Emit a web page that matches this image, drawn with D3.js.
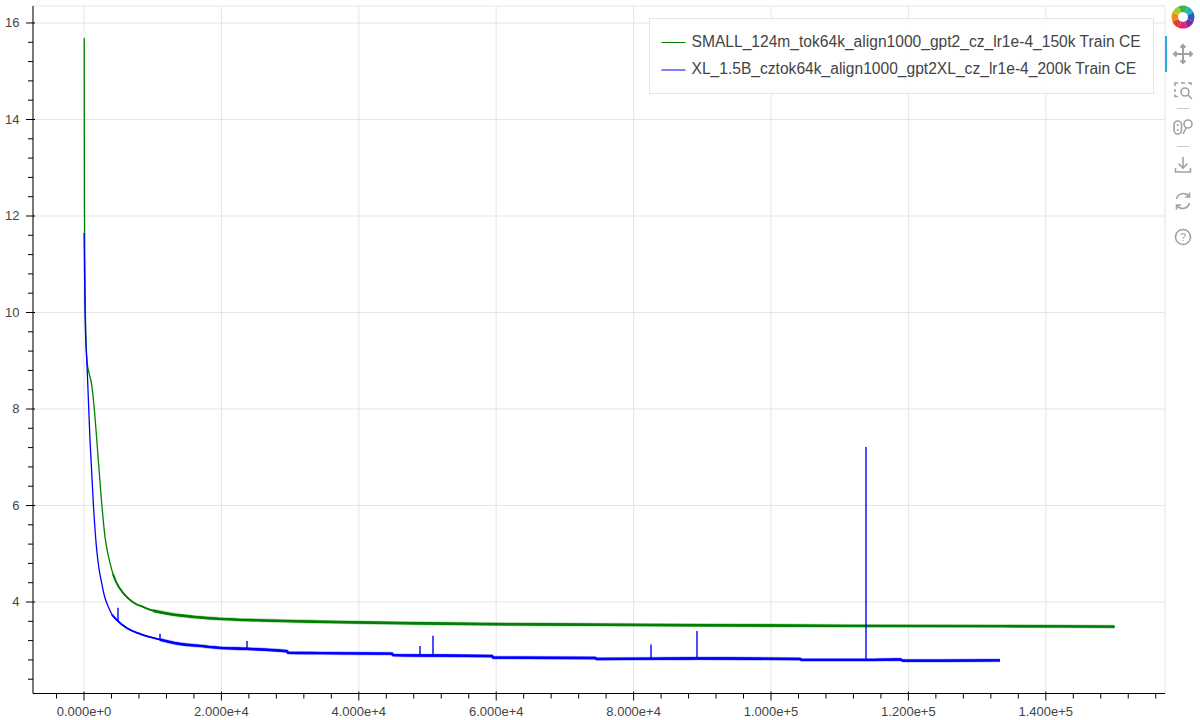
<!DOCTYPE html>
<html>
<head>
<meta charset="utf-8">
<script src="https://cdn.jsdelivr.net/npm/d3@7"></script>
<style>
html,body{margin:0;padding:0;background:#fff;}
svg{display:block;font-family:"Liberation Sans",Arial,sans-serif;}
</style>
</head>
<body>
<svg id="chart" width="1200" height="720"></svg>
<script>
const seriesNames = [
  "SMALL_124m_tok64k_align1000_gpt2_cz_lr1e-4_150k Train CE",
  "XL_1.5B_cztok64k_align1000_gpt2XL_cz_lr1e-4_200k Train CE"
];
const greenSteps = [30,60,146,291,509,728,1121,1601,2082,2576,3057,3392,3785,4221,4760,5677,6477,7424,8588,10044,13537,16885,19796,25618,34352,47889,61572,75109,89665,111500,133333,150000];
const greenValues = [15.69,12.33,10.67,9.43,8.91,8.75,8.50,7.83,6.94,6.05,5.35,5.06,4.81,4.58,4.39,4.19,4.07,3.97,3.90,3.82,3.73,3.68,3.65,3.62,3.59,3.56,3.54,3.53,3.52,3.505,3.50,3.49];
const blueSteps = [10,60,146,393,480,873,1354,1849,2183,2576,2984,3537,4076,4760,6215,8151,11063,13974,16885,19796,23726,29549,29695,34352,44832,44978,59388,59534,74381,74672,89228,104220,104511,113900,118800,119200,133333];
const blueValues = [11.65,11.09,10.05,9.02,8.75,7.36,6.05,5.08,4.69,4.39,4.12,3.90,3.74,3.63,3.46,3.34,3.22,3.13,3.09,3.05,3.03,2.98,2.95,2.94,2.93,2.90,2.88,2.85,2.84,2.82,2.83,2.82,2.80,2.80,2.81,2.785,2.79];
const spikeSteps = [4949,11063,23726,48908,50800,82533,89228,113826];
const spikeTops = [3.88,3.34,3.19,3.09,3.30,3.12,3.40,7.21];
const spikeBases = [3.60,3.22,3.03,2.90,2.89,2.84,2.83,2.80];
const xTickValues = [0,20000,40000,60000,80000,100000,120000,140000];
const xTickLabels = ["0.000e+0","2.000e+4","4.000e+4","6.000e+4","8.000e+4","1.000e+5","1.200e+5","1.400e+5"];
const yTickValues = [4,6,8,10,12,14,16];
const yTickLabels = ["4","6","8","10","12","14","16"];
const fuzzFromStep = 4000;
const noisyFromStep = 10000;

const GREEN = "#008000", BLUE = "#0000ff";
const svg = d3.select("#chart");
const L = 33, R = 1165, T = 6, B = 693.5;
const x = d3.scaleLinear().domain([-7424, 157350]).range([L, R]);
const y = d3.scaleLinear().domain([2.104, 16.352]).range([B, T]);

// grid
const grid = svg.append("g").attr("fill", "none").attr("stroke", "#e5e5e5").attr("stroke-width", 1);
xTickValues.forEach(v => grid.append("line").attr("x1", x(v)).attr("x2", x(v)).attr("y1", T).attr("y2", B));
yTickValues.forEach(v => grid.append("line").attr("x1", L).attr("x2", R).attr("y1", y(v)).attr("y2", y(v)));
// outline
svg.append("rect").attr("x", L).attr("y", T).attr("width", R - L).attr("height", B - T)
  .attr("fill", "none").attr("stroke", "#e5e5e5");

// series
const lineGen = d3.line().x(d => x(d[0])).y(d => y(d[1])).curve(d3.curveMonotoneX);
function drawSeries(steps, values, color) {
  const pts = d3.zip(steps, values);
  const mid = pts.filter(p => p[0] >= fuzzFromStep);
  const tail = pts.filter(p => p[0] >= noisyFromStep);
  const stroke = (data, w, o) => svg.append("path").attr("d", lineGen(data)).attr("fill", "none")
    .attr("stroke", color).attr("stroke-width", w).attr("stroke-opacity", o).attr("stroke-linecap", "butt");
  stroke(pts, 1.3, 1);
  stroke(mid, 1.9, 1);
  stroke(tail, 3.8, 0.35);
  stroke(tail, 2.4, 1);
}
drawSeries(greenSteps, greenValues, GREEN);
drawSeries(blueSteps, blueValues, BLUE);
svg.append("g").selectAll("line").data(spikeSteps).join("line")
  .attr("x1", d => x(d)).attr("x2", d => x(d))
  .attr("y1", (d, i) => y(spikeTops[i])).attr("y2", (d, i) => y(spikeBases[i]))
  .attr("stroke", BLUE).attr("stroke-width", 1.4);

// axes
const textColor = "#444444";
const xMinor = d3.range(-4000, 157000, 4000).filter(v => !xTickValues.includes(v));
const yMinor = d3.range(2.4, 16.3, 0.4).map(v => +v.toFixed(1)).filter(v => !yTickValues.includes(v));

const xAxis = svg.append("g").attr("transform", `translate(0,${B})`)
  .call(d3.axisBottom(x).tickValues(xTickValues).tickFormat((d, i) => xTickLabels[i]).tickSize(7).tickSizeOuter(0).offset(0));
xAxis.selectAll(".tick line").attr("y1", -2).attr("stroke", "#000");
xAxis.selectAll("text").attr("y", 0).attr("dy", null).attr("transform", "translate(0,22.5)")
  .attr("font-size", 13).attr("font-family", "Liberation Sans").attr("fill", textColor);
xAxis.select(".domain").attr("stroke", "#000");
const xMinorG = svg.append("g").attr("stroke", "#000");
xMinor.forEach(v => xMinorG.append("line").attr("x1", x(v)).attr("x2", x(v)).attr("y1", B).attr("y2", B + 5));

const yAxis = svg.append("g").attr("transform", `translate(${L},0)`)
  .call(d3.axisLeft(y).tickValues(yTickValues).tickFormat((d, i) => yTickLabels[i]).tickSize(7).tickSizeOuter(0).offset(0));
yAxis.selectAll(".tick line").attr("x1", 2).attr("stroke", "#000");
yAxis.selectAll("text").attr("x", -13.5).attr("font-size", 13).attr("font-family", "Liberation Sans").attr("fill", textColor);
yAxis.select(".domain").attr("stroke", "#000");
const yMinorG = svg.append("g").attr("stroke", "#000");
yMinor.forEach(v => yMinorG.append("line").attr("x1", L - 5).attr("x2", L).attr("y1", y(v)).attr("y2", y(v)));

// legend
const legend = svg.append("g");
legend.append("rect").attr("x", 649.5).attr("y", 18.5).attr("width", 504).attr("height", 75)
  .attr("fill", "#fff").attr("fill-opacity", 0.95).attr("stroke", "#e5e5e5");
[[42.5, GREEN], [70, BLUE]].forEach((row, i) => {
  legend.append("line").attr("x1", 661.5).attr("x2", 685.5).attr("y1", row[0]).attr("y2", row[0]).attr("stroke", row[1]).attr("stroke-width", 1);
  legend.append("text").attr("x", 691.5).attr("y", row[0] + 4).attr("font-size", 15.6).attr("fill", textColor).text(seriesNames[i]);
});

// toolbar
const tb = svg.append("g");
const logoColors = ["#3fb24a","#1fb5c9","#3557b7","#7d2ca0","#e0217f","#e23b33","#f18a1d","#a8cb2f"];
const arc = d3.arc().innerRadius(5).outerRadius(11.5);
logoColors.forEach((c, i) => {
  tb.append("path").attr("transform", "translate(1183,17)")
    .attr("d", arc({startAngle: (i - 0.5) * Math.PI / 4, endAngle: (i + 0.5) * Math.PI / 4})).attr("fill", c);
});
tb.append("rect").attr("x", 1165).attr("y", 36).attr("width", 2).attr("height", 36).attr("fill", "#26aae1");
const ic = tb.append("g").attr("fill", "none").attr("stroke", "#9ea3a6").attr("stroke-width", 1.6);
// pan
ic.append("path").attr("d", "M1183 45V63M1174 54H1192M1180.5 47.5L1183 45L1185.5 47.5M1180.5 60.5L1183 63L1185.5 60.5M1176.5 51.5L1174 54L1176.5 56.5M1189.5 51.5L1192 54L1189.5 56.5").attr("stroke-width", 2);
// box zoom
ic.append("path").attr("d", "M1175 86V83H1178M1181 83H1185M1188 83H1191V85M1175 89V92M1175 94.5V96.5H1178");
ic.append("circle").attr("cx", 1185).attr("cy", 92).attr("r", 4);
ic.append("path").attr("d", "M1188 95L1192 99");
// separators
tb.append("path").attr("d", "M1177 108.5H1189M1177 146.5H1189").attr("stroke", "#c9cbcc").attr("stroke-width", 1);
// wheel zoom
ic.append("rect").attr("x", 1174).attr("y", 121).attr("width", 7.5).attr("height", 13).attr("rx", 3.7);
ic.append("path").attr("d", "M1177.7 124V126M1177.7 129V131");
ic.append("circle").attr("cx", 1188).attr("cy", 124).attr("r", 4);
ic.append("path").attr("d", "M1186 128L1183 134");
// save
ic.append("path").attr("d", "M1183 157V168M1178.5 163.5L1183 168L1187.5 163.5M1175.5 168V172H1190.5V168");
// reset
ic.append("path").attr("d", "M1176.5 199A7 7 0 0 1 1189 196.5M1189.5 203A7 7 0 0 1 1177 205.5M1189.5 192.5V197H1185M1176.5 209.5V205H1181");
// help
ic.append("circle").attr("cx", 1183).attr("cy", 237).attr("r", 7.5);
tb.append("text").attr("x", 1183).attr("y", 241).attr("text-anchor", "middle").attr("font-size", 11).attr("fill", "#9ea3a6").text("?");
</script>
</body>
</html>
